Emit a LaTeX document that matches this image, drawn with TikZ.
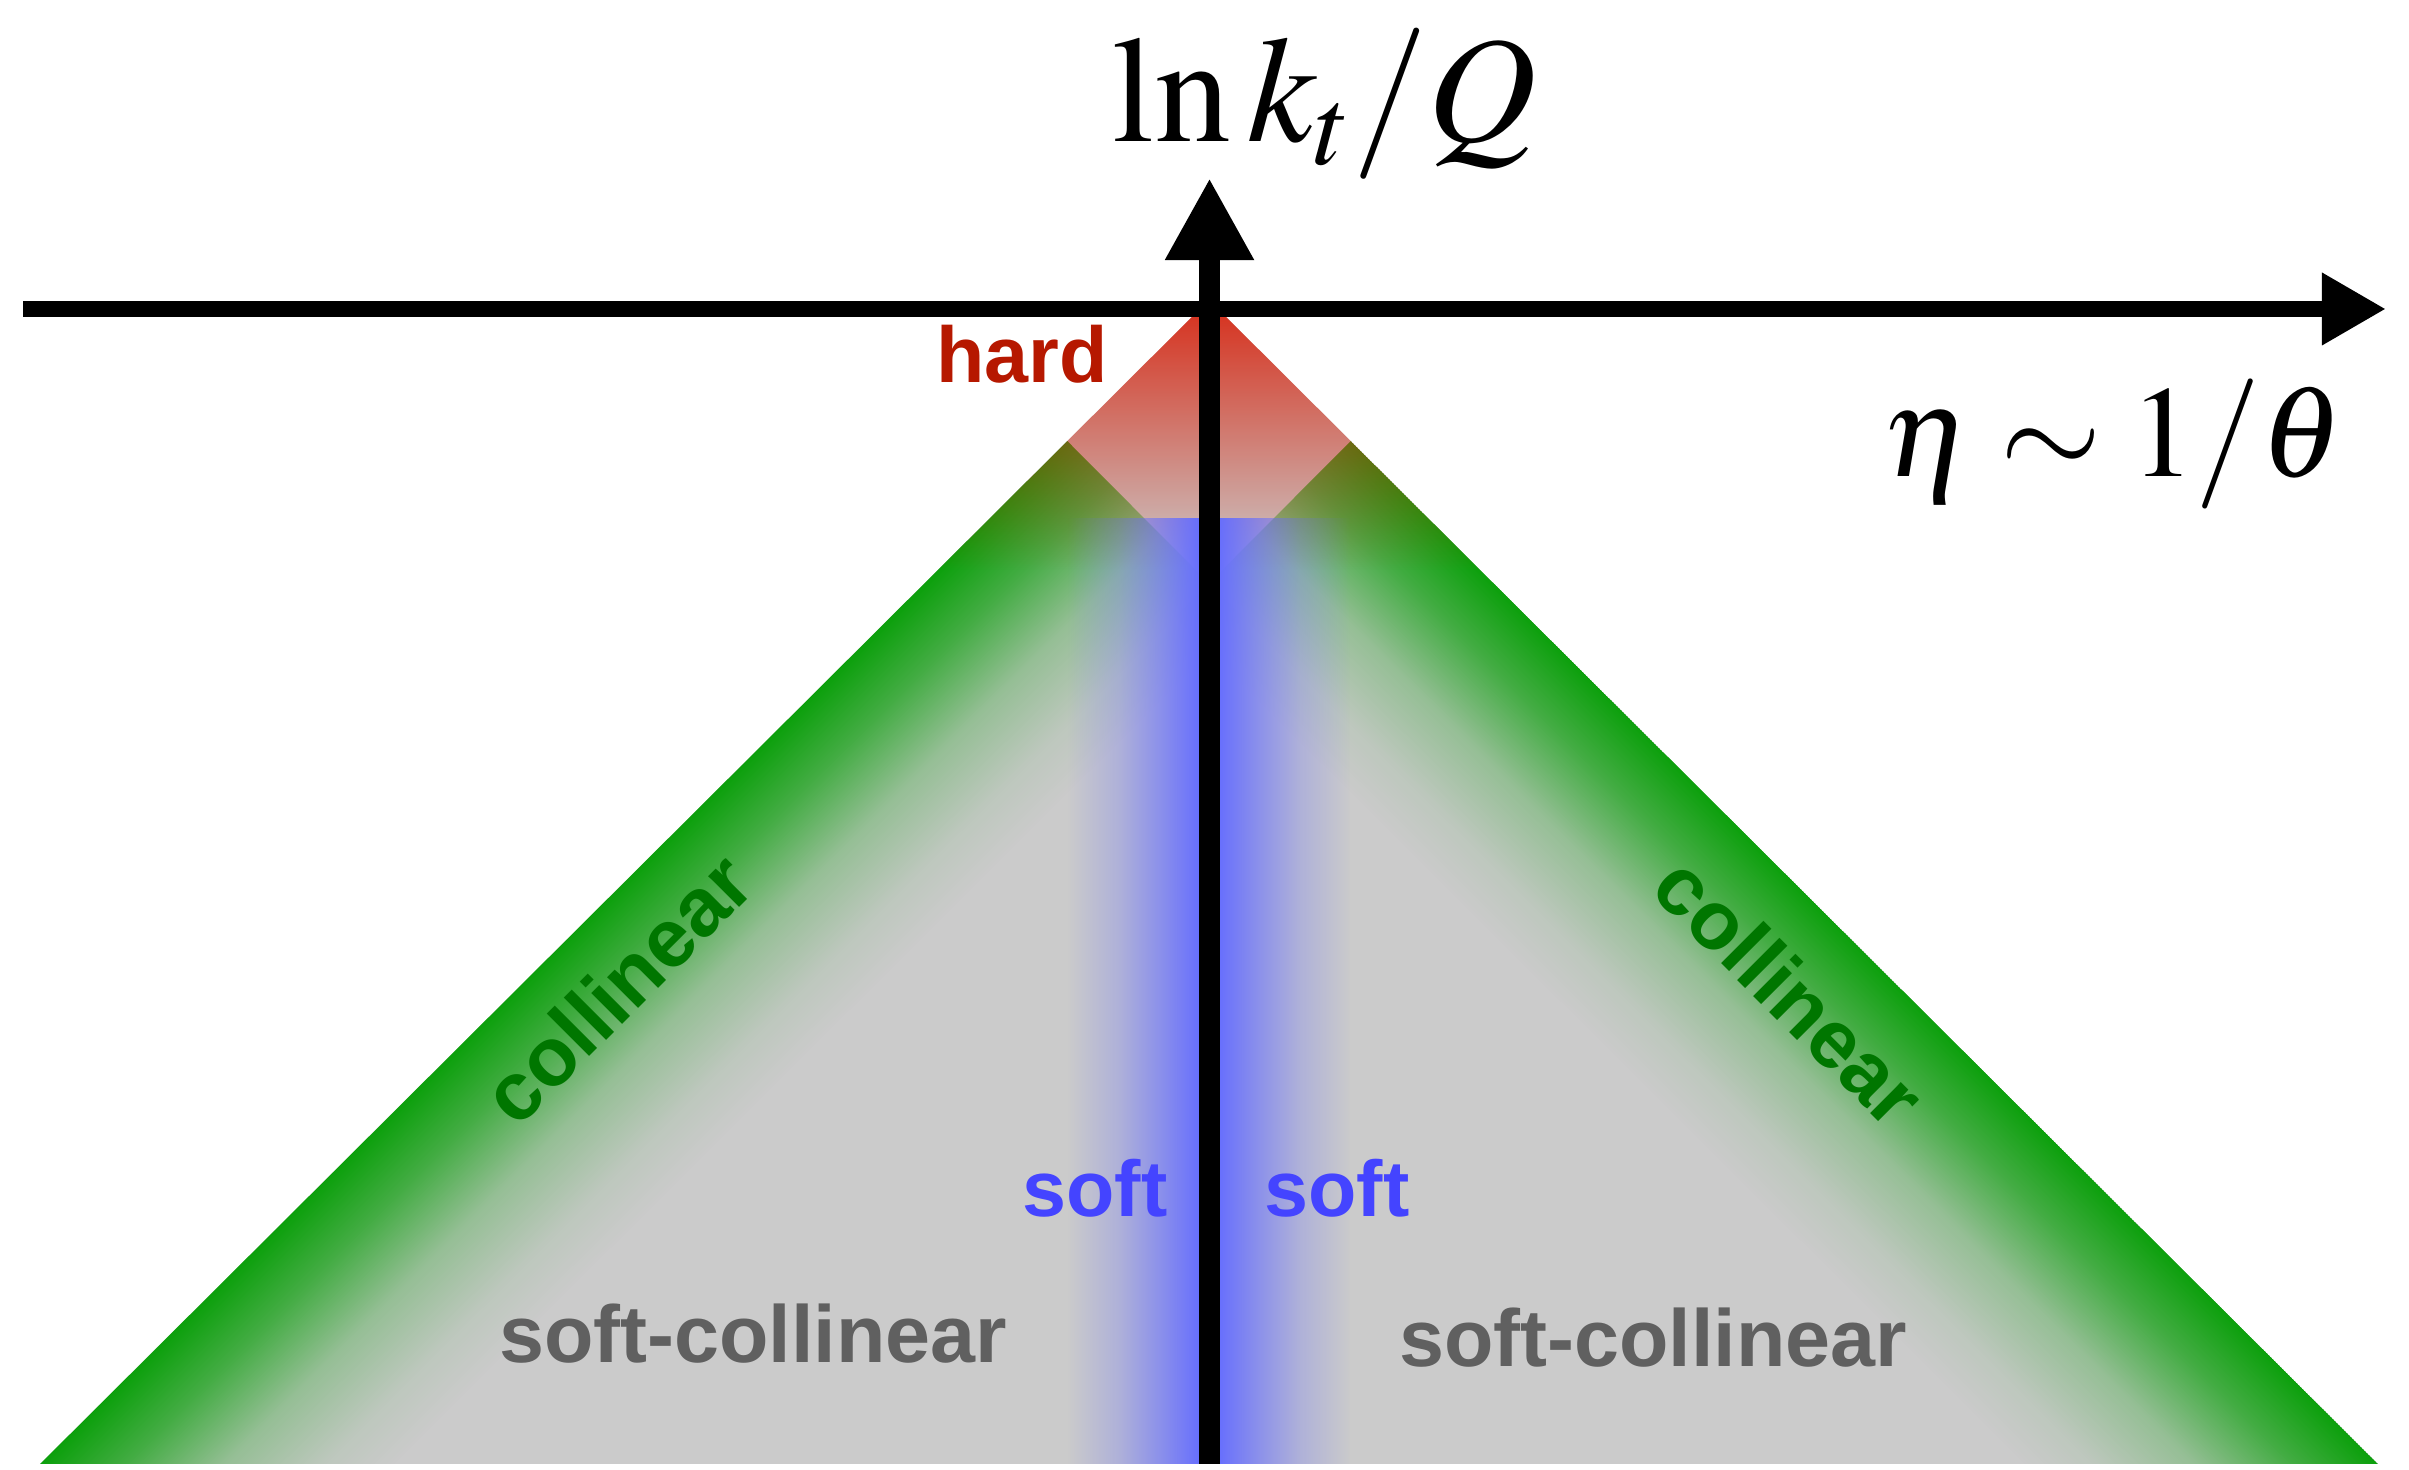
\documentclass[tikz,border=0pt]{standalone}
\usepackage{mathptmx}
\usepackage[no-math]{fontspec}
\newfontfamily\regionfont{Liberation Sans}
\usepackage{tikz}
\usetikzlibrary{arrows.meta, fadings, positioning}
\definecolor{regiongray}{RGB}{203,203,203}
\definecolor{collgreen}{RGB}{12,160,12}
\definecolor{hardred}{RGB}{215,45,25}
\definecolor{softblue}{RGB}{100,108,255}
\definecolor{hardtext}{RGB}{182,24,0}
\definecolor{softtext}{RGB}{68,68,255}
\definecolor{colltext}{RGB}{0,118,0}
\definecolor{sctext}{RGB}{96,96,96}

% opacity profiles of the regions (white = opaque)
\pgfdeclarehorizontalshading{softprofile}{100bp}{color(0bp)=(black); color(25bp)=(black);
  color(34bp)=(black!73); color(41bp)=(black!40); color(48bp)=(black!5); color(50bp)=(white);
  color(52bp)=(black!5); color(59bp)=(black!40); color(66bp)=(black!73); color(75bp)=(black);
  color(100bp)=(black)}
\pgfdeclareverticalshading{collprofileL}{100bp}{color(0bp)=(white); color(25bp)=(white);
  color(37bp)=(black!29); color(51bp)=(black!72); color(65bp)=(black!93); color(75bp)=(black);
  color(100bp)=(black)}
\pgfdeclareverticalshading{collprofileR}{100bp}{color(0bp)=(black); color(25bp)=(black);
  color(35bp)=(black!93); color(49bp)=(black!72); color(63bp)=(black!29); color(75bp)=(white);
  color(100bp)=(white)}
\tikzfading[name=softfade, shading=softprofile]
\tikzfading[name=collfadeL, shading=collprofileL]
\tikzfading[name=collfadeR, shading=collprofileR]
\tikzfading[name=hardfade, top color=transparent!0, bottom color=transparent!100]

\begin{document}
\begin{tikzpicture}[
        x=0.01cm, y=0.01cm,
        region/.style={font=\regionfont\bfseries\fontsize{22.5}{27}\selectfont, inner sep=0pt},
        axislab/.style={font=\fontsize{40}{48}\selectfont, inner sep=0pt},
        haxis/.style={line width=0.16cm, -{Triangle[length=0.64cm, width=0.68cm]}},
        vaxis/.style={line width=0.21cm, -{Triangle[length=0.82cm, width=0.83cm]}}
      ]
        \useasboundingbox (0,0) rectangle (2409,1470);

        \coordinate (apex) at (1209,1170);
        \coordinate (bl) at (40,6);
        \coordinate (br) at (2378,6);
        \coordinate (cl) at (1067,1028.6);
        \coordinate (cr) at (1351,1028.6);

        % phase space triangle
        \fill[regiongray] (apex) -- (bl) -- (br) -- cycle;

        \begin{scope}
          \clip (apex) -- (bl) -- (br) -- cycle;
          % collinear bands
          \begin{scope}[transform canvas={shift={(cl)}, rotate=-135.12}]
            \fill[collgreen, path fading=collfadeL] (0,0) rectangle (1500,250);
          \end{scope}
          \begin{scope}[transform canvas={shift={(cr)}, rotate=-44.88}]
            \fill[collgreen, path fading=collfadeR] (0,-250) rectangle (1500,0);
          \end{scope}
          % hard
          \fill[hardred, path fading=hardfade] (900,900) rectangle (1520,1170);
          % soft band
          \fill[softblue, path fading=softfade] (1068,6) rectangle (1350,952);
        \end{scope}

        % axes
        \coordinate (xstart) at (23,1161);
        \coordinate (xend) at (2386,1161);
        \coordinate (ybot) at (1209.5,6);
        \coordinate (ytop) at (1209.5,1292);
        \draw[haxis] (xstart) -- (xend);
        \draw[vaxis] (ybot) -- (ytop);

        \node[axislab, anchor=base, font=\fontsize{43}{50}\selectfont] (ylab) at (1325,1328) {$\ln k_t/Q$};
        \node[axislab, anchor=base, font=\fontsize{37}{44}\selectfont] (xlab) at (2113,993) {$\eta\sim 1/\theta$};

        \node[region, text=hardtext, anchor=base] (hard) at (1022,1087) {hard};
        \node[region, text=softtext, anchor=base] (softL) at (1095,253) {soft};
        \node[region, text=softtext, anchor=base] (softR) at (1337,253) {soft};
        \node[region, text=sctext, anchor=base, font=\regionfont\bfseries\fontsize{23}{27}\selectfont] (scL) at (753,107) {soft-collinear};
        \node[region, text=sctext, anchor=base, font=\regionfont\bfseries\fontsize{23}{27}\selectfont] (scR) at (1653,103) {soft-collinear};
        \node[region, text=colltext, rotate=45, font=\regionfont\bfseries\fontsize{23.5}{27}\selectfont] (collL) at (617,482) {collinear};
        \node[region, text=colltext, rotate=-45, font=\regionfont\bfseries\fontsize{23.5}{27}\selectfont] (collR) at (1790,479) {collinear};
      \end{tikzpicture}
\end{document}
